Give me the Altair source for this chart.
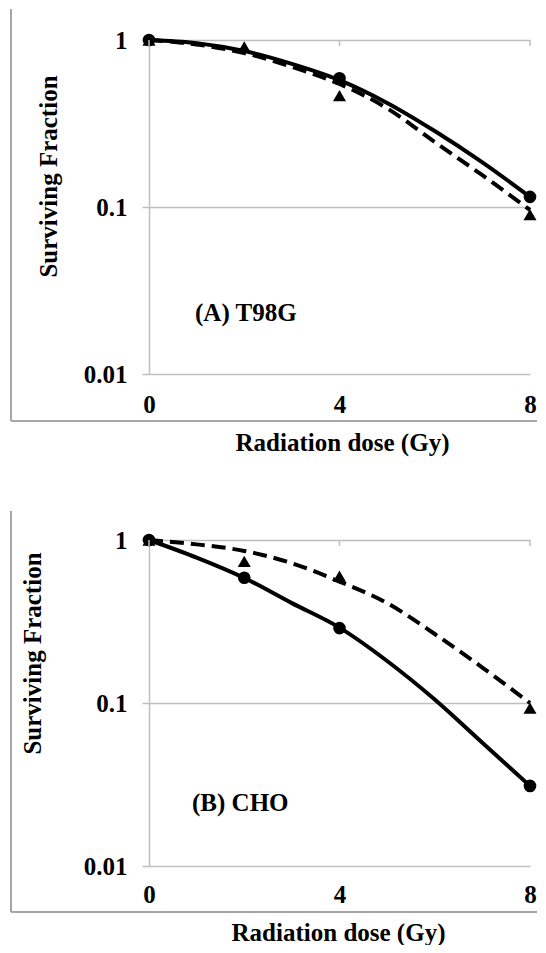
import altair as alt
import pandas as pd

# ---- data ----
curve_dose = [0, 1, 2, 3, 4, 5, 6, 7, 8]
a_solid_curve = [1.0, 0.958, 0.86, 0.72, 0.575, 0.42, 0.285, 0.185, 0.115]
a_dashed_curve = [1.0, 0.94, 0.835, 0.69, 0.545, 0.39, 0.245, 0.155, 0.096]
b_solid_curve = [1.0, 0.78, 0.585, 0.41, 0.29, 0.181, 0.105, 0.057, 0.031]
b_dashed_curve = [1.0, 0.94, 0.857, 0.72, 0.556, 0.41, 0.265, 0.165, 0.1]

a_circle_dose = [0, 4, 8]
a_circle_sf = [1.0, 0.59, 0.115]
a_tri_dose = [0, 2, 4, 8]
a_tri_sf = [1.0, 0.91, 0.465, 0.09]

b_circle_dose = [0, 2, 4, 8]
b_circle_sf = [1.0, 0.587, 0.288, 0.031]
b_tri_dose = [0, 2, 4, 8]
b_tri_sf = [1.0, 0.74, 0.6, 0.093]

x_ticks = [0, 4, 8]
y_ticks = [0.01, 0.1, 1]

FONT = "Liberation Serif"
GRID = "#bfbfbf"
FRAME = "#a6a6a6"
W = 381


def panel(solid_curve, dashed_curve, c_dose, c_sf, t_dose, t_sf, label, h,
          ytx, yty, xtx, xty, xlp, lab_x, lab_y, frame_top, frame_bottom):
    xs = alt.Scale(domain=[0, 8], nice=False, zero=False)
    ys = alt.Scale(type="log", domain=[0.01, 1], nice=False)
    x_axis = alt.Axis(values=x_ticks, title="Radiation dose (Gy)", grid=False,
                      domain=False, ticks=False, tickSize=0, labelPadding=xlp,
                      labelFlush=False, labelBaseline="middle", labelFont=FONT,
                      labelFontSize=25, labelFontWeight="bold", labelColor="black",
                      titleFont=FONT, titleFontSize=25, titleFontWeight="bold",
                      titleColor="black", titleX=xtx, titleY=xty,
                      titleBaseline="middle", titleAlign="center")
    y_axis = alt.Axis(values=y_ticks, format="~g", title="Surviving Fraction",
                      grid=True, gridColor=GRID, gridWidth=1.5,
                      domainColor=GRID, domainWidth=1.5, tickColor=GRID,
                      tickWidth=1.5, tickSize=7, labelPadding=15,
                      labelFont=FONT, labelFontSize=25, labelFontWeight="bold",
                      labelColor="black", titleFont=FONT, titleFontSize=25,
                      titleFontWeight="bold", titleColor="black",
                      titleX=ytx, titleY=yty, titleAngle=270,
                      titleBaseline="middle", titleAlign="center")

    solid_df = pd.DataFrame({"dose": curve_dose, "sf": solid_curve})
    dashed_df = pd.DataFrame({"dose": curve_dose, "sf": dashed_curve})
    circ_df = pd.DataFrame({"dose": c_dose, "sf": c_sf})
    tri_df = pd.DataFrame({"dose": t_dose, "sf": t_sf})
    tick_df = pd.DataFrame({"dose": x_ticks})
    one = pd.DataFrame({"k": [0]})

    X = alt.X("dose:Q", scale=xs, axis=x_axis)
    Y = alt.Y("sf:Q", scale=ys, axis=y_axis)

    solid = alt.Chart(solid_df).mark_line(
        color="black", strokeWidth=4, interpolate="monotone"
    ).encode(x=X, y=Y)
    dashed = alt.Chart(dashed_df).mark_line(
        color="black", strokeWidth=4, strokeDash=[14, 7], interpolate="monotone"
    ).encode(x=X, y=Y)
    tris = alt.Chart(tri_df).mark_point(
        shape="triangle-up", filled=True, color="black", size=170, opacity=1
    ).encode(x=X, y=Y)
    circs = alt.Chart(circ_df).mark_point(
        shape="circle", filled=True, color="black", size=160, opacity=1
    ).encode(x=X, y=Y)
    top_ticks = alt.Chart(tick_df).mark_rule(color=GRID, strokeWidth=1.5).encode(
        x=X, y=alt.value(0), y2=alt.value(6))
    frame_left = alt.Chart(one).mark_rule(color=FRAME, strokeWidth=2).encode(
        x=alt.value(-138), y=alt.value(frame_top), y2=alt.value(frame_bottom))
    frame_bot = alt.Chart(one).mark_rule(color=FRAME, strokeWidth=2).encode(
        x=alt.value(-138), x2=alt.value(388), y=alt.value(frame_bottom))
    text = alt.Chart(one).mark_text(
        text=label, font=FONT, fontSize=25, fontWeight="bold", color="black",
        align="left", baseline="middle"
    ).encode(x=alt.value(lab_x), y=alt.value(lab_y))

    return alt.layer(solid, dashed, tris, circs, top_ticks, frame_left,
                     frame_bot, text).properties(width=W, height=h)


pa = panel(a_solid_curve, a_dashed_curve, a_circle_dose, a_circle_sf,
           a_tri_dose, a_tri_sf, "(A) T98G", 334,
           ytx=-101, yty=136, xtx=193, xty=68, xlp=30,
           lab_x=46, lab_y=273, frame_top=-31, frame_bottom=381)
pb = panel(b_solid_curve, b_dashed_curve, b_circle_dose, b_circle_sf,
           b_tri_dose, b_tri_sf, "(B) CHO", 326,
           ytx=-116.5, yty=113, xtx=189, xty=66, xlp=28,
           lab_x=43, lab_y=263, frame_top=-29, frame_bottom=372)

chart = alt.vconcat(pa, pb, spacing=166, bounds="flush").properties(
    padding={"left": 2, "top": 0, "right": 0, "bottom": 0},
    background="white",
).configure_view(stroke=None)

chart.save("out.html", embed_options={"renderer": "svg", "actions": False})
